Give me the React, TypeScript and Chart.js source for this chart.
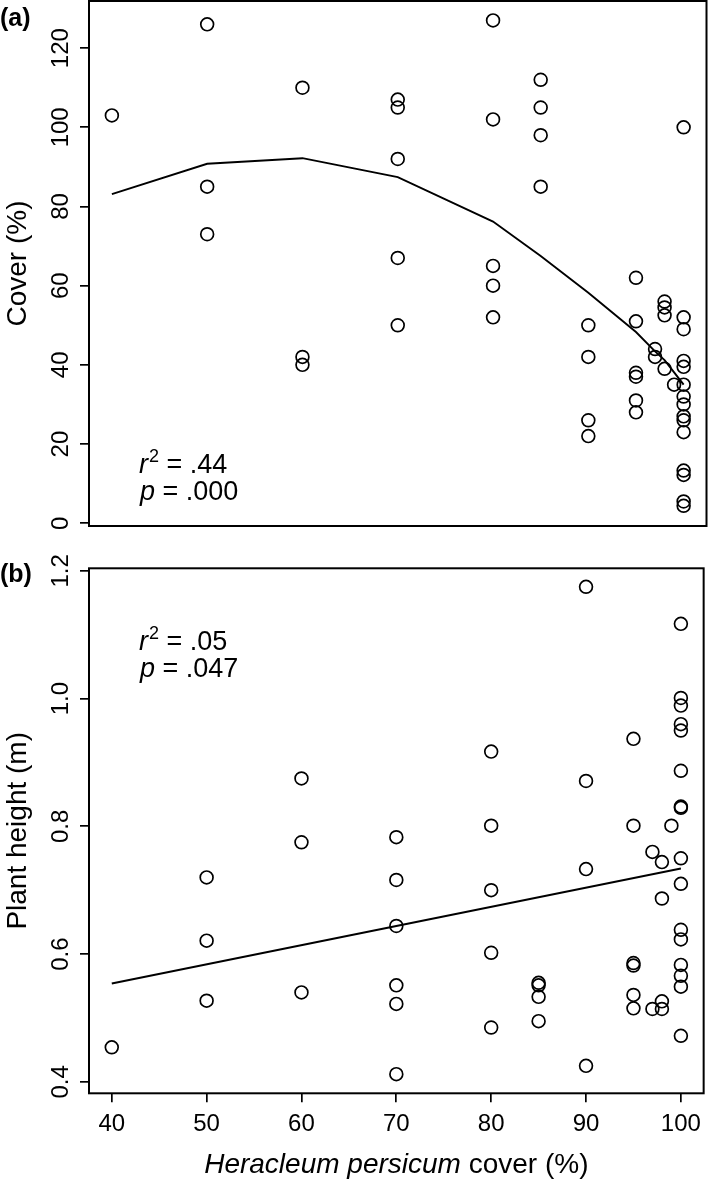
import React, { useEffect, useRef } from 'react';
import { Chart, registerables } from 'chart.js';

Chart.register(...registerables);

const FONT = '"Liberation Sans", Arial, Helvetica, sans-serif';

// axis ticks
const xTicks = [40, 50, 60, 70, 80, 90, 100];
const coverTicks = [0, 20, 40, 60, 80, 100, 120];
const heightTicks = [0.4, 0.6, 0.8, 1.0, 1.2];
const heightTickLabels = ['0.4', '0.6', '0.8', '1.0', '1.2'];

// (a) cover vs Heracleum cover
const coverX = [
  40,
  50, 50, 50,
  60, 60, 60,
  70, 70, 70, 70, 70,
  80, 80, 80, 80, 80,
  85, 85, 85, 85,
  90, 90, 90, 90,
  95, 95, 95, 95, 95, 95,
  97, 97,
  98, 98, 98, 98,
  99,
  100, 100, 100, 100, 100, 100, 100, 100, 100, 100, 100, 100, 100, 100, 100,
];
const coverY = [
  103,
  126, 85, 73,
  110, 42, 40,
  107, 105, 92, 67, 50,
  127, 102, 65, 60, 52,
  112, 105, 98, 85,
  50, 42, 26, 22,
  62, 51, 38, 37, 31, 28,
  44, 42,
  56, 54.5, 52.5, 39,
  35,
  100, 52, 49, 41, 39.5, 35, 32, 30, 27, 26, 23, 13.3, 12.2, 5.5, 4.4,
];
const coverFitX = [40, 50, 60, 70, 80, 85, 90, 95, 97, 98, 99, 100];
const coverFitY = [83.1, 90.8, 92.2, 87.4, 76.2, 67.5, 58.2, 48.3, 43.4, 41.2, 38.1, 35];

// (b) plant height vs Heracleum cover
const heightX = [
  40,
  50, 50, 50,
  60, 60, 60,
  70, 70, 70, 70, 70, 70,
  80, 80, 80, 80, 80,
  85, 85, 85, 85,
  90, 90, 90, 90,
  95, 95, 95, 95, 95, 95,
  97, 97,
  98, 98, 98, 98,
  99,
  100, 100, 100, 100, 100, 100, 100, 100, 100, 100, 100, 100, 100, 100, 100, 100,
];
const heightY = [
  0.454,
  0.72, 0.621, 0.527,
  0.875, 0.775, 0.54,
  0.783, 0.716, 0.644, 0.551, 0.522, 0.412,
  0.917, 0.801, 0.7, 0.602, 0.485,
  0.555, 0.551, 0.533, 0.495,
  1.175, 0.871, 0.733, 0.425,
  0.937, 0.801, 0.586, 0.582, 0.536, 0.515,
  0.76, 0.514,
  0.744, 0.687, 0.526, 0.514,
  0.801,
  1.117, 1.001, 0.989, 0.96, 0.95, 0.887, 0.831, 0.829, 0.75, 0.71, 0.638, 0.623, 0.583, 0.566, 0.549, 0.472,
];
const heightFitX = [40, 100];
const heightFitY = [0.554, 0.734];

const toPoints = (xs: number[], ys: number[]) => xs.map((x, i) => ({ x, y: ys[i] }));

interface PanelText {
  tag: string;
  tagY: number;
  yTitle: string;
  yLabels: string[];
  r2: string;
  p: string;
  statY: number;
  xTitleY?: number;
}

// box, rotated y labels, titles and stats text (R style)
const panelPlugin = (t: PanelText) => ({
  id: 'rpanel',
  afterDraw(chart: any) {
    const { ctx, chartArea: a, scales } = chart;
    ctx.save();
    ctx.strokeStyle = '#000';
    ctx.lineWidth = 2;
    ctx.strokeRect(a.left, a.top, a.right - a.left, a.bottom - a.top);

    ctx.fillStyle = '#000';
    ctx.textAlign = 'center';
    ctx.textBaseline = 'alphabetic';
    ctx.font = `24px ${FONT}`;
    scales.y.ticks.forEach((tk: any, i: number) => {
      const py = scales.y.getPixelForValue(tk.value);
      ctx.save();
      ctx.translate(68, py);
      ctx.rotate(-Math.PI / 2);
      ctx.fillText(t.yLabels[i], 0, 0);
      ctx.restore();
    });

    ctx.font = `28px ${FONT}`;
    ctx.save();
    ctx.translate(26, (a.top + a.bottom) / 2);
    ctx.rotate(-Math.PI / 2);
    ctx.fillText(t.yTitle, 0, 0);
    ctx.restore();

    ctx.textAlign = 'left';
    ctx.font = `bold 25px ${FONT}`;
    ctx.fillText(t.tag, 0, t.tagY);

    // r^2 line
    let x = 139;
    ctx.font = `italic 27px ${FONT}`;
    ctx.fillText('r', x, t.statY);
    x += ctx.measureText('r').width + 1;
    ctx.font = `18px ${FONT}`;
    ctx.fillText('2', x, t.statY - 11);
    x += ctx.measureText('2').width;
    ctx.font = `27px ${FONT}`;
    ctx.fillText(' = ' + t.r2, x, t.statY);

    // p line
    x = 140;
    ctx.font = `italic 27px ${FONT}`;
    ctx.fillText('p', x, t.statY + 27);
    x += ctx.measureText('p').width;
    ctx.font = `27px ${FONT}`;
    ctx.fillText(' = ' + t.p, x, t.statY + 27);

    if (t.xTitleY !== undefined) {
      const it = 'Heracleum persicum';
      const rest = ' cover (%)';
      ctx.font = `italic 28px ${FONT}`;
      const w1 = ctx.measureText(it).width;
      ctx.font = `28px ${FONT}`;
      const w2 = ctx.measureText(rest).width;
      const x0 = (a.left + a.right) / 2 - (w1 + w2) / 2;
      ctx.font = `italic 28px ${FONT}`;
      ctx.fillText(it, x0, t.xTitleY);
      ctx.font = `28px ${FONT}`;
      ctx.fillText(rest, x0 + w1, t.xTitleY);
    }
    ctx.restore();
  },
});

const tickGrid = {
  drawOnChartArea: false,
  drawTicks: true,
  tickLength: 9,
  color: '#000',
  lineWidth: 1.7,
};

const makeConfig = (
  pts: { x: number; y: number }[],
  fit: { x: number; y: number }[],
  yMin: number,
  yMax: number,
  yTicks: number[],
  showX: boolean,
  padding: any,
  xHeight: number,
  text: PanelText
): any => ({
  type: 'scatter',
  data: {
    datasets: [
      {
        data: fit,
        showLine: true,
        borderColor: '#000',
        borderWidth: 1.9,
        pointRadius: 0,
        tension: 0,
        fill: false,
      },
      {
        data: pts,
        showLine: false,
        pointRadius: 6.4,
        pointBorderWidth: 1.7,
        pointBorderColor: '#000',
        pointBackgroundColor: 'rgba(0,0,0,0)',
      },
    ],
  },
  options: {
    responsive: false,
    animation: false,
    events: [],
    layout: { autoPadding: false, padding },
    plugins: { legend: { display: false }, tooltip: { enabled: false } },
    scales: {
      x: {
        type: 'linear',
        display: showX,
        min: 37.6,
        max: 102.4,
        afterBuildTicks: (s: any) => {
          s.ticks = xTicks.map((v) => ({ value: v }));
        },
        afterFit: (s: any) => {
          if (showX) s.height = xHeight;
        },
        grid: tickGrid,
        border: { display: false },
        ticks: {
          color: '#000',
          padding: 8,
          maxRotation: 0,
          font: { family: FONT, size: 24 },
          callback: (v: number) => String(v),
        },
      },
      y: {
        type: 'linear',
        min: yMin,
        max: yMax,
        afterBuildTicks: (s: any) => {
          s.ticks = yTicks.map((v) => ({ value: v }));
        },
        afterFit: (s: any) => {
          s.width = 89;
        },
        grid: tickGrid,
        border: { display: false },
        ticks: { display: false },
      },
    },
  },
  plugins: [panelPlugin(text)],
});

const App: React.FC = () => {
  const topRef = useRef<HTMLCanvasElement>(null);
  const botRef = useRef<HTMLCanvasElement>(null);

  useEffect(() => {
    const charts: Chart[] = [];
    if (topRef.current) {
      charts.push(
        new Chart(
          topRef.current,
          makeConfig(
            toPoints(coverX, coverY),
            toPoints(coverFitX, coverFitY),
            -0.7,
            131.9,
            coverTicks,
            false,
            { top: 1, right: 2.5, bottom: 19, left: 0 },
            0,
            {
              tag: '(a)',
              tagY: 26,
              yTitle: 'Cover (%)',
              yLabels: coverTicks.map(String),
              r2: '.44',
              p: '.000',
              statY: 473,
            }
          )
        )
      );
    }
    if (botRef.current) {
      charts.push(
        new Chart(
          botRef.current,
          makeConfig(
            toPoints(heightX, heightY),
            toPoints(heightFitX, heightFitY),
            0.382,
            1.204,
            heightTicks,
            true,
            { top: 23.3, right: 2.5, bottom: 0, left: 0 },
            89.7,
            {
              tag: '(b)',
              tagY: 37,
              yTitle: 'Plant height (m)',
              yLabels: heightTickLabels,
              r2: '.05',
              p: '.047',
              statY: 105,
              xTitleY: 628,
            }
          )
        )
      );
    }
    return () => charts.forEach((c) => c.destroy());
  }, []);

  return (
    <div style={{ position: 'absolute', left: 0, top: 0, width: 709, height: 1183, background: '#fff' }}>
      <canvas
        ref={topRef}
        width={709}
        height={545}
        style={{ position: 'absolute', left: 0, top: 0, width: 709, height: 545 }}
      />
      <canvas
        ref={botRef}
        width={709}
        height={638}
        style={{ position: 'absolute', left: 0, top: 545, width: 709, height: 638 }}
      />
    </div>
  );
};

export default App;
